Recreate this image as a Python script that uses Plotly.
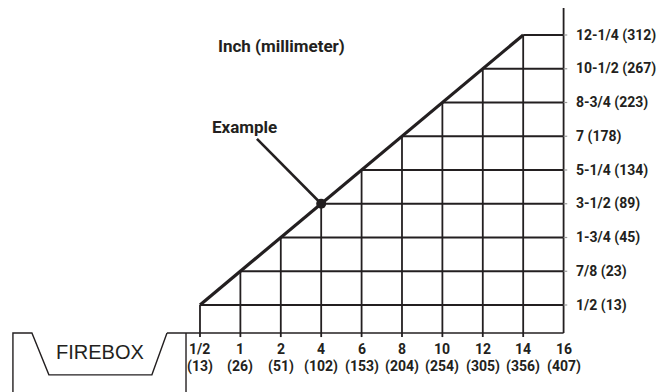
import plotly.graph_objects as go

# ---- data ----
x_inch = ["1/2", "1", "2", "4", "6", "8", "10", "12", "14", "16"]
x_mm = ["(13)", "(26)", "(51)", "(102)", "(153)", "(204)", "(254)", "(305)", "(356)", "(407)"]
y_labels = ["1/2 (13)", "7/8 (23)", "1-3/4 (45)", "3-1/2 (89)", "5-1/4 (134)",
            "7 (178)", "8-3/4 (223)", "10-1/2 (267)", "12-1/4 (312)"]
example_x = "4"
example_y = "3-1/2 (89)"

INK = "#231f20"
FONT_B = "Roboto, Liberation Sans, Arial, sans-serif"
FONT_R = "Liberation Sans, Arial, sans-serif"

xi = list(range(len(x_inch)))
yi = list(range(len(y_labels)))
x_last = xi[-1]
y_top = 8.8
y_bottom = -0.83
tick_bottom = -0.95

fig = go.Figure()

def seg(x0, y0, x1, y1, width=1.8, color=INK):
    fig.add_shape(type="line", xref="x", yref="y", x0=x0, y0=y0, x1=x1, y1=y1,
                  line=dict(color=color, width=width), layer="above")

# vertical grid lines: from below the baseline up to the diagonal
for i in xi:
    top = i if i < len(y_labels) else y_top
    seg(i, tick_bottom if i < x_last else y_bottom, i, top)

# horizontal grid lines: from the diagonal to the right border
for j in yi:
    seg(j, j, x_last, j)
    seg(x_last, j, x_last + 0.09, j, width=1.2, color="#9a9a9a")

# baseline and firebox outline
seg(-0.817, y_bottom, x_last, y_bottom, width=1.6)
fb_x = [-4.63, -4.63, -4.16, -3.74, -1.19, -0.817]
fb_y = [-2.9, y_bottom, y_bottom, -2.07, -2.07, y_bottom]
fig.add_trace(go.Scatter(x=fb_x, y=fb_y, mode="lines",
                         line=dict(color=INK, width=1.4), hoverinfo="skip"))
seg(-0.346, y_bottom, -0.346, -2.9, width=1.4)

# diagonal
n = len(y_labels)
fig.add_trace(go.Scatter(x=xi[:n], y=yi, mode="lines",
                         line=dict(color=INK, width=3.2), hoverinfo="skip"))

# example pointer and dot
ex = x_inch.index(example_x)
ey = y_labels.index(example_y)
fig.add_trace(go.Scatter(x=[1.41, ex], y=[4.92, ey], mode="lines",
                         line=dict(color=INK, width=2.6), hoverinfo="skip"))
fig.add_trace(go.Scatter(x=[ex], y=[ey], mode="markers",
                         marker=dict(color=INK, size=10), hoverinfo="skip"))

LBL = dict(family=FONT_B, size=14, color=INK, weight="bold")
ann = []
for i, (a, b) in enumerate(zip(x_inch, x_mm)):
    ann.append(dict(x=i, y=-1.30, text=a, xref="x", yref="y", showarrow=False,
                    xanchor="center", yanchor="middle", font=LBL))
    ann.append(dict(x=i, y=-1.81, text=b, xref="x", yref="y", showarrow=False,
                    xanchor="center", yanchor="middle", font=LBL))
for j, t in enumerate(y_labels):
    ann.append(dict(x=9.26, y=j, text=t, xref="x", yref="y", showarrow=False,
                    xanchor="left", yanchor="middle", font=LBL))
ann.append(dict(x=0.40, y=7.67, text="Inch (millimeter)", xref="x", yref="y",
                showarrow=False, xanchor="left", yanchor="middle",
                font=dict(family=FONT_B, size=17, color=INK, weight="bold")))
ann.append(dict(x=0.25, y=5.27, text="Example", xref="x", yref="y",
                showarrow=False, xanchor="left", yanchor="middle",
                font=dict(family=FONT_B, size=17, color=INK, weight="bold")))
ann.append(dict(x=-2.475, y=-1.39, text="FIREBOX", xref="x", yref="y",
                showarrow=False, xanchor="center", yanchor="middle",
                font=dict(family=FONT_R, size=20, color=INK)))

fig.update_layout(
    width=665, height=392,
    margin=dict(l=0, r=0, t=0, b=0),
    paper_bgcolor="white", plot_bgcolor="white",
    showlegend=False,
    annotations=ann,
    xaxis=dict(range=[-4.752, 11.708], visible=False, fixedrange=True),
    yaxis=dict(range=[-2.815, 8.8], visible=False, fixedrange=True),
)

fig.write_html("out.html")
